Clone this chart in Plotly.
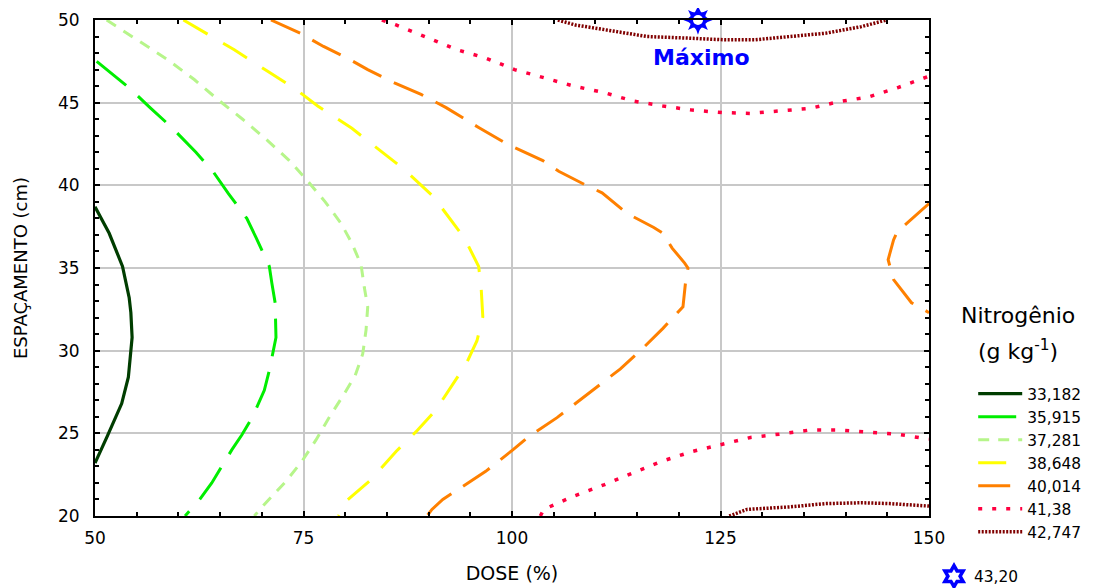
import plotly.graph_objects as go

# ---------------- data ----------------
levels = ["33,182", "35,915", "37,281", "38,648", "40,014", "41,38", "42,747"]

# contour 33,182
c1_dose = [50.0, 51.7, 53.3, 54.1, 54.3, 54.45, 54.0, 53.2, 51.45, 50.0]
c1_esp = [38.7, 37.1, 35.1, 33.2, 32.3, 30.8, 28.4, 26.8, 24.8, 23.2]

# contour 35,915
c2_dose = [50.2, 54.1, 56.5, 59.2, 62.1, 64.2, 66.0, 68.2, 69.3, 70.3, 70.9, 71.2,
           71.6, 71.7, 71.4, 70.9, 70.3, 68.9, 67.6, 66.4, 64.0, 62.4, 60.8]
c2_esp = [47.5, 45.9, 44.75, 43.5, 42.0, 40.8, 39.5, 38.0, 36.85, 35.7, 35.1, 34.1,
          32.9, 30.8, 30.0, 28.8, 27.6, 26.0, 24.9, 24.0, 22.0, 20.9, 20.0]

# contour 37,281
c3_dose = [51.4, 55.7, 58.7, 61.9, 64.7, 67.7, 70.7, 73.3, 75.6, 77.6, 79.5, 80.8,
           81.9, 82.3, 82.7, 82.5, 82.1, 81.2, 79.9, 78.0, 76.5, 74.8, 72.9, 70.3, 69.1]
c3_esp = [50.0, 48.6, 47.6, 46.4, 45.2, 44.0, 42.7, 41.5, 40.2, 39.0, 37.7, 36.5,
          35.2, 33.8, 32.65, 31.25, 29.8, 28.5, 27.4, 25.9, 24.6, 23.3, 22.1, 20.7, 20.0]

# contour 38,648
c4_dose = [60.6, 63.9, 66.7, 70.7, 74.1, 76.7, 80.8, 84.2, 87.0, 90.6, 92.65, 94.3,
           96.0, 96.3, 96.5, 95.8, 94.5, 93.2, 90.85, 88.5, 86.1, 83.1, 80.1, 79.2]
c4_esp = [50.0, 49.0, 48.2, 46.9, 45.8, 44.8, 43.45, 42.1, 41.0, 39.3, 37.9, 36.8,
          35.1, 33.8, 32.05, 30.6, 29.2, 28.2, 26.4, 25.1, 23.9, 22.2, 20.9, 20.0]

# contour 40,014 (main branch)
c5_dose = [71.1, 74.6, 77.4, 80.6, 82.7, 85.9, 89.1, 92.1, 96.0, 99.4, 103.7, 105.6,
           108.9, 110.8, 113.8, 117.0, 118.1, 119.2, 120.7, 121.1, 120.8, 120.5, 118.1,
           115.8, 113.0, 110.2, 108.1, 105.4, 102.0, 100.1, 96.85, 93.6, 91.7, 90.4, 89.8]
c5_esp = [50.0, 49.2, 48.4, 47.6, 47.0, 46.2, 45.5, 44.7, 43.5, 42.5, 41.5, 40.85,
          40.0, 39.55, 38.3, 37.45, 37.1, 36.2, 35.3, 35.0, 34.1, 32.65, 31.35,
          30.2, 28.9, 27.8, 27.0, 25.95, 24.8, 24.0, 22.7, 21.6, 21.0, 20.4, 20.0]
# contour 40,014 (right branch)
c5b_dose = [150.0, 148.5, 146.2, 145.75, 145.1, 145.75, 147.5, 147.9, 150.0]
c5b_esp = [38.9, 38.25, 37.2, 36.7, 35.5, 34.3, 33.2, 32.9, 32.3]

# contour 41,38 (upper branch)
c6_dose = [84.4, 86.1, 89.8, 93.4, 96.85, 100.3, 103.9, 107.4, 111.1, 114.5, 118.1,
           121.6, 125.2, 128.6, 132.05, 135.7, 139.1, 142.8, 146.2, 150.0]
c6_esp = [50.0, 49.7, 48.95, 48.2, 47.7, 47.0, 46.5, 46.0, 45.6, 45.1, 44.8,
          44.55, 44.4, 44.35, 44.5, 44.65, 45.05, 45.35, 45.9, 46.6]
# contour 41,38 (lower branch)
c6b_dose = [103.4, 103.8, 107.4, 111.1, 114.5, 117.9, 121.6, 125.0, 128.6, 132.05,
            135.7, 139.1, 142.8, 146.2, 150.0]
c6b_esp = [20.0, 20.4, 21.2, 21.9, 22.6, 23.3, 23.9, 24.3, 24.75, 24.95,
           25.2, 25.2, 25.05, 24.95, 24.65]

# contour 42,747 (upper branch)
c7_dose = [105.5, 107.6, 111.9, 116.2, 121.3, 125.6, 129.05, 133.3, 137.6, 141.9, 144.9]
c7_esp = [50.0, 49.7, 49.35, 49.0, 48.9, 48.8, 48.8, 49.0, 49.2, 49.6, 50.0]
# contour 42,747 (lower branch)
c7b_dose = [126.05, 128.2, 133.3, 137.6, 141.9, 145.3, 150.0]
c7b_esp = [20.0, 20.4, 20.55, 20.75, 20.8, 20.75, 20.6]

# maximum
max_dose = [122.3]
max_esp = [50.0]
max_label = "43,20"

x_ticks = [50, 75, 100, 125, 150]
y_ticks = [20, 25, 30, 35, 40, 45, 50]

# ---------------- styles ----------------
colors = ["#003d00", "#00ee00", "#b6f58a", "#ffff00", "#ff8000", "#ff0040", "#800000"]
dashes = ["solid", "38px,16px", "11px,9px", "28px,18px", "32px,14px", "4px,10px", "2px,1.5px"]
widths = [3.2, 3, 3, 3, 3, 3.5, 3.5]

FONT = "DejaVu Sans"

fig = go.Figure()

series = [
    [(c1_dose, c1_esp)],
    [(c2_dose, c2_esp)],
    [(c3_dose, c3_esp)],
    [(c4_dose, c4_esp)],
    [(c5_dose, c5_esp), (c5b_dose, c5b_esp)],
    [(c6_dose, c6_esp), (c6b_dose, c6b_esp)],
    [(c7_dose, c7_esp), (c7b_dose, c7b_esp)],
]

for i, parts in enumerate(series):
    for j, (xs, ys) in enumerate(parts):
        fig.add_trace(go.Scatter(
            x=xs, y=ys, mode="lines", name=levels[i],
            legendgroup="contours", showlegend=(j == 0),
            line=dict(color=colors[i], width=widths[i], dash=dashes[i]),
            hoverinfo="skip",
        ))

# maximum marker (composite sun-like star)
fig.add_trace(go.Scatter(x=max_dose, y=max_esp, mode="markers", showlegend=False,
                         marker=dict(symbol="star-diamond", size=21, color="#0000ff", line=dict(width=0)),
                         cliponaxis=False, hoverinfo="skip"))
fig.add_trace(go.Scatter(x=max_dose, y=max_esp, mode="markers", showlegend=False,
                         marker=dict(symbol="star-square", size=18, color="#0000ff", line=dict(width=0)),
                         cliponaxis=False, hoverinfo="skip"))
fig.add_trace(go.Scatter(x=max_dose, y=max_esp, mode="markers", showlegend=False,
                         marker=dict(symbol="circle", size=10, color="white", line=dict(width=0)),
                         cliponaxis=False, hoverinfo="skip"))
# legend entry for the maximum (separate legend box)
fig.add_trace(go.Scatter(x=[None], y=[None], mode="markers", name=max_label,
                         legend="legend2",
                         marker=dict(symbol="hexagram", size=16, color="white",
                                     line=dict(width=3.5, color="#0000ff"))))

fig.add_annotation(x=max_dose[0], y=max_esp[0], xref="x", yref="y", text="<b>Máximo</b>",
                   showarrow=False, xshift=4, yshift=-37,
                   font=dict(family=FONT, size=22, color="#0000ff"))

# legend title (two lines)
fig.add_annotation(x=1.107, y=0.405, xref="paper", yref="paper", text="Nitrogênio",
                   showarrow=False, xanchor="center", yanchor="middle",
                   font=dict(family=FONT, size=22, color="black"))
fig.add_annotation(x=1.107, y=0.335, xref="paper", yref="paper", text="(g kg<sup>-1</sup>)",
                   showarrow=False, xanchor="center", yanchor="middle",
                   font=dict(family=FONT, size=22, color="black"))

axis_common = dict(
    showline=True, linecolor="black", linewidth=2, mirror="ticks",
    showgrid=True, gridcolor="#c8c8c8", gridwidth=1.5,
    zeroline=False, ticks="inside", ticklen=5, tickcolor="black", tickwidth=1.5,
    tickfont=dict(family=FONT, size=17, color="black"),
)

fig.update_xaxes(range=[50, 150], tickvals=x_ticks, ticktext=[str(v) for v in x_ticks],
                 minor=dict(dtick=5, ticks="inside", ticklen=4, tickcolor="black", showgrid=False),
                 ticklabelstandoff=6,
                 title=dict(text="DOSE (%)", font=dict(family=FONT, size=19, color="black"), standoff=19),
                 **axis_common)
fig.update_yaxes(range=[20, 50], tickvals=y_ticks, ticktext=[str(v) for v in y_ticks],
                 minor=dict(dtick=1, ticks="inside", ticklen=4, tickcolor="black", showgrid=False),
                 ticklabelstandoff=10,
                 title=dict(text="ESPAÇAMENTO (cm)", font=dict(family=FONT, size=18, color="black"), standoff=26),
                 **axis_common)

fig.update_layout(
    width=1104, height=588,
    margin=dict(l=87, r=183, t=12, b=80, autoexpand=False),
    plot_bgcolor="white", paper_bgcolor="white",
    legend=dict(
        x=1.053, y=0.28, xanchor="left", yanchor="top",
        traceorder="normal",
        font=dict(family=FONT, size=15.4, color="black"),
        bgcolor="rgba(0,0,0,0)", itemwidth=44,
    ),
    legend2=dict(
        x=1.006, y=-0.088, xanchor="left", yanchor="top",
        font=dict(family=FONT, size=15.4, color="black"),
        bgcolor="rgba(0,0,0,0)", itemwidth=30,
    ),
    showlegend=True,
)

fig.write_html("out.html")
